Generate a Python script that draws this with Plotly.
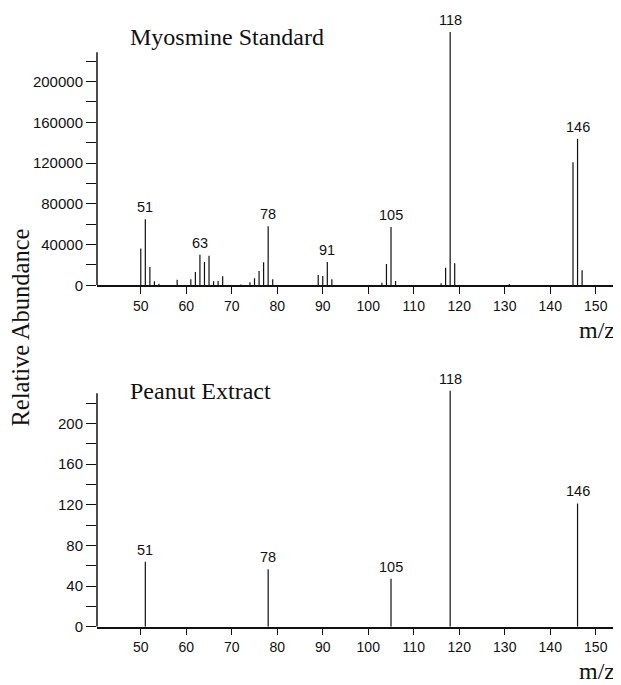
import plotly.graph_objects as go

# ---- data ----
mz_std = [50, 51, 52, 53, 54, 58, 61, 62, 63, 64, 65, 66, 67, 68, 72, 74, 75, 76, 77, 78, 79,
          89, 90, 91, 92, 103, 104, 105, 106, 116, 117, 118, 119, 131, 145, 146, 147]
ab_std = [36000, 64800, 18000, 4000, 1500, 5500, 5900, 13000, 30100, 22900, 29100, 3900, 4200, 8800,
          800, 2900, 6900, 14000, 22600, 57900, 5900, 10100, 9200, 22900, 5900, 2600, 20900, 57200,
          4200, 2000, 17300, 248600, 21600, 1200, 120700, 143900, 14700]
labels_std = [51, 63, 78, 91, 105, 118, 146]

mz_pea = [51, 78, 105, 118, 146]
ab_pea = [64, 56.4, 47.2, 232, 121.3]
labels_pea = [51, 78, 105, 118, 146]

x_ticks = [50, 60, 70, 80, 90, 100, 110, 120, 130, 140, 150]
y_ticks_std = [0, 40000, 80000, 120000, 160000, 200000]
y_minor_std = [20000, 60000, 100000, 140000, 180000, 220000]
y_ticks_pea = [0, 40, 80, 120, 160, 200]
y_minor_pea = [20, 60, 100, 140, 180, 220]
y_axis_top_std = 228700
y_axis_top_pea = 229.6

# page body has an 8px margin; size the figure so it ends at the window edge
OX, OY = 8, 8
W, H = 621 - OX, 685 - OY
SANS = "Liberation Sans, Arial, sans-serif"
SERIF = "Liberation Serif, Times New Roman, serif"
INK = "#111111"


def px(xp):
    return (xp - OX) / W


def py(yp):
    return 1 - (yp - OY) / H


def sticks(mz, ab):
    xs, ys = [], []
    for m, a in zip(mz, ab):
        xs += [m, m, None]
        ys += [0, a, None]
    return xs, ys


fig = go.Figure()
xs, ys = sticks(mz_std, ab_std)
fig.add_trace(go.Scatter(x=xs, y=ys, mode="lines", line=dict(color=INK, width=1.2),
                         xaxis="x", yaxis="y", showlegend=False, hoverinfo="skip"))
xs, ys = sticks(mz_pea, ab_pea)
fig.add_trace(go.Scatter(x=xs, y=ys, mode="lines", line=dict(color=INK, width=1.2),
                         xaxis="x2", yaxis="y2", showlegend=False, hoverinfo="skip"))

xdom = [px(97), px(620)]
xr = [40.38, 155.33]

common_x = dict(range=xr, domain=xdom, showgrid=False, zeroline=False, showline=True,
                linecolor=INK, linewidth=1.5, ticks="outside", ticklen=7, tickwidth=1.3,
                tickcolor=INK, tickvals=x_ticks, tickfont=dict(family=SANS, size=14, color=INK),
                automargin=False)
common_y = dict(showgrid=False, zeroline=False, showline=False, ticks="outside", ticklen=10,
                tickwidth=1.2, tickcolor=INK, tickfont=dict(family=SANS, size=15, color=INK),
                tickformat="d", automargin=False)

fig.update_layout(
    width=W, height=H, margin=dict(l=0, r=0, t=0, b=0),
    paper_bgcolor="white", plot_bgcolor="white",
    xaxis=dict(**common_x, anchor="y"),
    yaxis=dict(**common_y, anchor="x", domain=[py(285.3), py(30.55)], range=[0, 250000],
               tickvals=y_ticks_std,
               minor=dict(tickvals=y_minor_std, ticks="outside", ticklen=10, tickwidth=1.2, tickcolor=INK)),
    xaxis2=dict(**common_x, anchor="y2"),
    yaxis2=dict(**common_y, anchor="x2", domain=[py(626.7), py(382.7)], range=[0, 240],
                tickvals=y_ticks_pea,
                minor=dict(tickvals=y_minor_pea, ticks="outside", ticklen=10, tickwidth=1.2, tickcolor=INK)),
)

# y-axis lines (stop at the axis top, below the tallest peaks)
fig.add_shape(type="line", xref="x domain", yref="y", x0=0, x1=0, y0=0, y1=y_axis_top_std,
              line=dict(color=INK, width=1.5))
fig.add_shape(type="line", xref="x2 domain", yref="y2", x0=0, x1=0, y0=0, y1=y_axis_top_pea,
              line=dict(color=INK, width=1.5))

ann = []
lab_std = dict(zip(mz_std, ab_std))
for m in labels_std:
    ann.append(dict(x=m, y=lab_std[m], xref="x", yref="y", text=str(m), showarrow=False,
                    yanchor="middle", yshift=12, font=dict(family=SANS, size=14.5, color=INK)))
lab_pea = dict(zip(mz_pea, ab_pea))
for m in labels_pea:
    ann.append(dict(x=m, y=lab_pea[m], xref="x2", yref="y2", text=str(m), showarrow=False,
                    yanchor="middle", yshift=12, font=dict(family=SANS, size=14.5, color=INK)))

ann.append(dict(x=px(127.7), y=py(37), xref="paper", yref="paper", text="Myosmine Standard",
                showarrow=False, xanchor="left", yanchor="middle",
                font=dict(family=SERIF, size=24, color=INK)))
ann.append(dict(x=px(127.7), y=py(391), xref="paper", yref="paper", text="Peanut Extract",
                showarrow=False, xanchor="left", yanchor="middle",
                font=dict(family=SERIF, size=24, color=INK)))
ann.append(dict(x=px(617), y=py(330), xref="paper", yref="paper", text="m/z",
                showarrow=False, xanchor="right", yanchor="middle",
                font=dict(family=SERIF, size=24, color=INK)))
ann.append(dict(x=px(617), y=py(671), xref="paper", yref="paper", text="m/z",
                showarrow=False, xanchor="right", yanchor="middle",
                font=dict(family=SERIF, size=24, color=INK)))
ann.append(dict(x=px(20), y=py(327.5), xref="paper", yref="paper", text="Relative Abundance",
                showarrow=False, textangle=-90, xanchor="center", yanchor="middle",
                font=dict(family=SERIF, size=24.5, color=INK)))
fig.update_layout(annotations=ann)

fig.write_html("out.html")
